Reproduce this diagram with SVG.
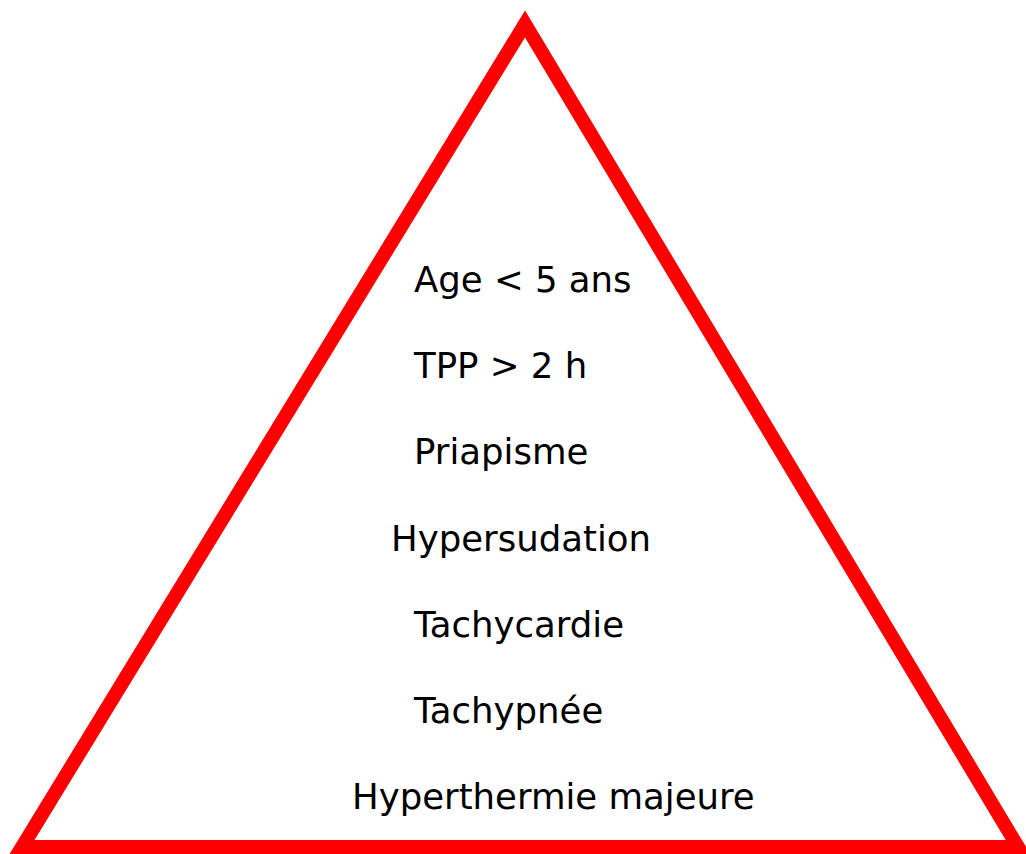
<svg xmlns="http://www.w3.org/2000/svg" width="1026" height="854" viewBox="0 0 1026 854">
<style>
.t{font-family:"DejaVu Sans","Verdana",sans-serif;font-size:35.5px;fill:#000}
.tri{fill:none;stroke:#ff0000;stroke-width:14;stroke-linejoin:miter;stroke-miterlimit:10}
</style>
<rect width="1026" height="854" fill="#fff"/>
<g id="triangle"><polygon class="tri" points="525,24 22,847 1018,847"/></g>
<g id="labels">
<text class="t" x="414" y="292">Age &lt; 5 ans</text>
<text class="t" x="414" y="378">TPP &gt; 2 h</text>
<text class="t" x="414" y="464">Priapisme</text>
<text class="t" x="391" y="551">Hypersudation</text>
<text class="t" x="414" y="637">Tachycardie</text>
<text class="t" x="414" y="723">Tachypnée</text>
<text class="t" x="352" y="809">Hyperthermie majeure</text>
</g>
<g id="connectors"></g>
</svg>
